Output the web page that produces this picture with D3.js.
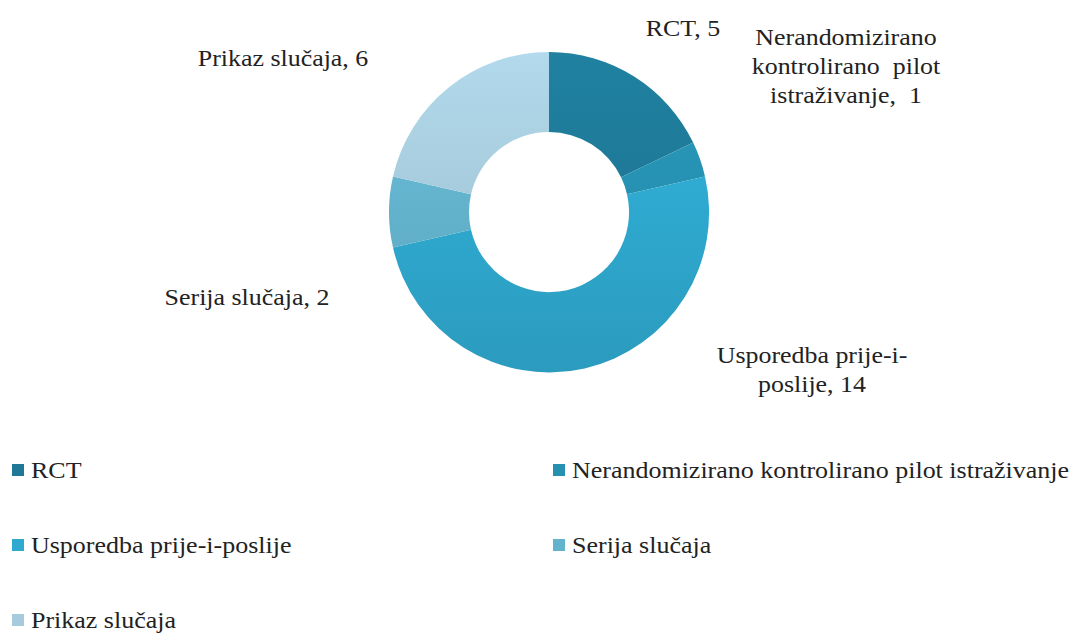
<!DOCTYPE html>
<html>
<head>
<meta charset="utf-8">
<script src="https://cdn.jsdelivr.net/npm/d3@7"></script>
</head>
<body style="margin:0">
<svg id="chart" width="1078" height="633"></svg>
<script>
var categories = ["RCT", "Nerandomizirano kontrolirano pilot istraživanje", "Usporedba prije-i-poslije", "Serija slučaja", "Prikaz slučaja"];
var values = [5, 1, 14, 2, 6];
var colors = ["#1e7896", "#2690b1", "#2fa9d0", "#63b3cd", "#a6cbdc"];
// data label lines, as in the original (wrapped by hand)
var labelLines = [
  ["RCT, 5"],
  ["Nerandomizirano", "kontrolirano  pilot", "istraživanje,  1"],
  ["Usporedba prije-i-", "poslije, 14"],
  ["Serija slučaja, 2"],
  ["Prikaz slučaja, 6"]
];

var cx = 549, cy = 212;
var outerR = 160, innerR = 80;
// label centres relative to the donut centre (moved by hand in the source chart)
var labelPos = [[134, -184], [297, -146], [263, 157], [-302, 85], [-266, -154]];

var svg = d3.select("#chart");
var defs = svg.append("defs");

colors.forEach(function(c, i) {
  var g = defs.append("linearGradient")
    .attr("id", "grad" + i)
    .attr("gradientUnits", "userSpaceOnUse")
    .attr("x1", 0).attr("y1", -outerR).attr("x2", 0).attr("y2", outerR);
  g.append("stop").attr("offset", "0%").attr("stop-color", d3.color(c).brighter(0.2));
  g.append("stop").attr("offset", "100%").attr("stop-color", d3.color(c).darker(0.25));
});

var pie = d3.pie().sort(null).value(function(d) { return d; });
var arc = d3.arc().innerRadius(innerR).outerRadius(outerR);

var g = svg.append("g").attr("transform", "translate(" + cx + "," + cy + ")");

g.selectAll("path.slice")
  .data(pie(values))
  .enter()
  .append("path")
  .attr("class", "slice")
  .attr("d", arc)
  .attr("fill", function(d, i) { return "url(#grad" + i + ")"; });

var lineH = 29;
labelLines.forEach(function(lines, i) {
  var y0 = labelPos[i][1] - (lines.length - 1) * lineH / 2;
  lines.forEach(function(line, j) {
    g.append("text")
      .attr("class", "lbl")
      .attr("transform", "translate(" + labelPos[i][0] + "," + (y0 + j * lineH) + ") scale(1.08,1)")
      .attr("text-anchor", "middle")
      .attr("dy", "0.35em")
      .attr("font-family", "Liberation Serif")
      .attr("font-size", 24)
      .attr("fill", "#222")
      .attr("xml:space", "preserve")
      .text(line);
  });
});

// legend, two columns
var legX = [12, 553], legY0 = 470, legStep = 75;
var leg = svg.selectAll("g.leg")
  .data(categories)
  .enter()
  .append("g")
  .attr("class", "leg")
  .attr("transform", function(d, i) {
    return "translate(" + legX[i % 2] + "," + (legY0 + Math.floor(i / 2) * legStep) + ")";
  });

leg.append("rect")
  .attr("x", 0).attr("y", -6)
  .attr("width", 12).attr("height", 12)
  .attr("fill", function(d, i) { return colors[i]; });

leg.append("text")
  .attr("transform", "translate(19,0) scale(1.13,1)")
  .attr("dy", "0.35em")
  .attr("font-family", "Liberation Serif")
  .attr("font-size", 23)
  .attr("fill", "#222")
  .text(function(d) { return d; });
</script>
</body>
</html>
